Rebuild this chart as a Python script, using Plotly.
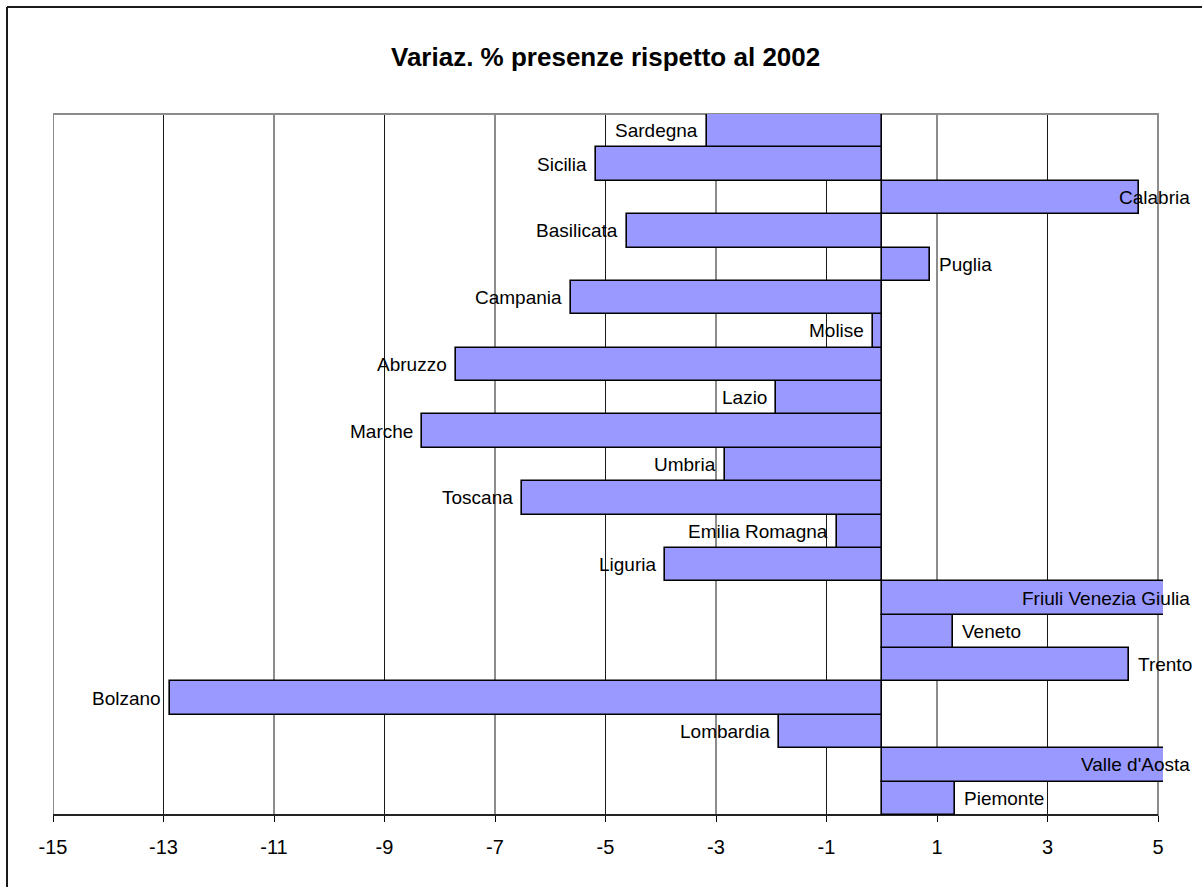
import plotly.graph_objects as go

# Regions, bottom to top as they appear on the category axis
regions = [
    "Piemonte", "Valle d'Aosta", "Lombardia", "Bolzano", "Trento", "Veneto",
    "Friuli Venezia Giulia", "Liguria", "Emilia Romagna", "Toscana", "Umbria",
    "Marche", "Lazio", "Abruzzo", "Molise", "Campania", "Puglia", "Basilicata",
    "Calabria", "Sicilia", "Sardegna",
]
# % change in tourist presences vs 2002
variation = [
    1.33, 6.1, -1.86, -12.88, 4.48, 1.29,
    5.7, -3.92, -0.81, -6.51, -2.83,
    -8.33, -1.91, -7.70, -0.15, -5.62, 0.88, -4.62,
    4.66, -5.17, -3.16,
]
tick_values = [-15, -13, -11, -9, -7, -5, -3, -1, 1, 3, 5]
tick_labels = ["-15", "-13", "-11", "-9", "-7", "-5", "-3", "-1", "1", "3", "5"]
title_text = "Variaz. % presenze rispetto al 2002"

# ---- layout geometry (pixels) ----
W, H = 1202, 887
ML, MR, MT, MB = 53, 39, 114, 72
PLOT_W = W - ML - MR
PLOT_H = H - MT - MB
X_LO, X_HI = tick_values[0], tick_values[-1]
FRAME_RIGHT_PX = 1158                       # where the value 5 sits
PX_PER_UNIT = (FRAME_RIGHT_PX - ML) / (X_HI - X_LO)
X_RANGE_HI = X_LO + PLOT_W / PX_PER_UNIT   # a few px of overflow past 5
LABEL_LIMIT_PX = 1192
LABEL_FONT = 19
LABEL_GAP = 7
FONT = "Liberation Sans, Arial, sans-serif"


def px_to_paper_x(px):
    return (px - ML) / PLOT_W


def px_to_paper_y(py):
    return (H - MB - py) / PLOT_H


fig = go.Figure()
fig.add_trace(go.Bar(
    y=regions,
    x=variation,
    orientation="h",
    marker=dict(color="#9999FF", line=dict(color="#000000", width=1.6)),
    hoverinfo="x+y",
))

shapes = []
# vertical gridlines inside the frame
for v in tick_values[1:-1]:
    shapes.append(dict(type="line", xref="x", yref="paper", x0=v, x1=v, y0=0, y1=1,
                       line=dict(color="#1a1a1a", width=1), layer="below"))
# grey plot frame
shapes.append(dict(type="rect", xref="x", yref="paper", x0=X_LO, x1=X_HI, y0=0, y1=1,
                   line=dict(color="#8c8c8c", width=2), layer="below"))
# black category axis line along the bottom
shapes.append(dict(type="line", xref="x", yref="paper", x0=X_LO, x1=X_HI, y0=0, y1=0,
                   line=dict(color="#000000", width=1.5), layer="above"))
# outer chart border (top and left edges)
bx = px_to_paper_x(7)
by = px_to_paper_y(7)
shapes.append(dict(type="line", xref="paper", yref="paper", x0=bx, x1=px_to_paper_x(W + 10),
                   y0=by, y1=by, line=dict(color="#1a1a1a", width=2)))
shapes.append(dict(type="line", xref="paper", yref="paper", x0=bx, x1=bx,
                   y0=px_to_paper_y(H + 10), y1=by, line=dict(color="#1a1a1a", width=2)))

# region name labels at the bar ends
annotations = []
limit_paper = px_to_paper_x(LABEL_LIMIT_PX)
for name, val in zip(regions, variation):
    if val < 0:
        annotations.append(dict(x=val, y=name, xref="x", yref="y", text=name,
                                xanchor="right", xshift=-LABEL_GAP, showarrow=False,
                                font=dict(family=FONT, size=LABEL_FONT, color="#000000")))
    else:
        end_px = ML + (min(val, X_RANGE_HI) - X_LO) * PX_PER_UNIT
        est_w = 0.48 * LABEL_FONT * len(name)
        if end_px + LABEL_GAP + est_w > LABEL_LIMIT_PX:
            annotations.append(dict(x=limit_paper, y=name, xref="paper", yref="y", text=name,
                                    xanchor="right", showarrow=False,
                                    font=dict(family=FONT, size=LABEL_FONT, color="#000000")))
        else:
            annotations.append(dict(x=val, y=name, xref="x", yref="y", text=name,
                                    xanchor="left", xshift=LABEL_GAP, showarrow=False,
                                    font=dict(family=FONT, size=LABEL_FONT, color="#000000")))

# chart title centred over the frame
annotations.append(dict(
    x=px_to_paper_x((ML + FRAME_RIGHT_PX) / 2), y=px_to_paper_y(57),
    xref="paper", yref="paper", text="<b>" + title_text + "</b>",
    xanchor="center", yanchor="middle", showarrow=False,
    font=dict(family=FONT, size=26, color="#000000"),
))

fig.update_layout(
    width=W, height=H,
    margin=dict(l=ML, r=MR, t=MT, b=MB, pad=0),
    paper_bgcolor="#ffffff",
    plot_bgcolor="#ffffff",
    showlegend=False,
    bargap=0,
    shapes=shapes,
    annotations=annotations,
    xaxis=dict(
        range=[X_LO, X_RANGE_HI],
        tickmode="array", tickvals=tick_values, ticktext=tick_labels,
        showgrid=False, zeroline=False, showline=False,
        ticks="outside", ticklen=6, tickwidth=1, tickcolor="#000000",
        tickfont=dict(family=FONT, size=20, color="#000000"),
        ticklabelstandoff=8,
    ),
    yaxis=dict(
        range=[-0.5, len(regions) - 0.5],
        showticklabels=False, ticks="", showgrid=False, zeroline=False, showline=False,
    ),
)

fig.write_html("out.html")
